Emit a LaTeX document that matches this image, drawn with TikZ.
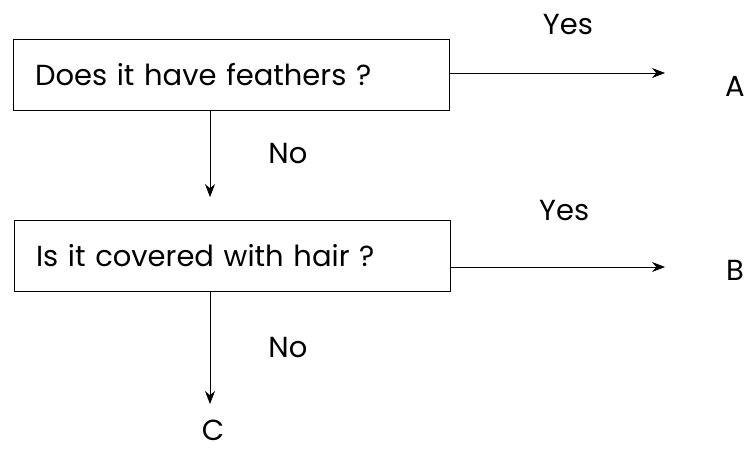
\documentclass[tikz,border=0pt]{standalone}
\usepackage{fontspec}
\setmainfont{Poppins}
\usetikzlibrary{arrows.meta}

\tikzset{
  question/.style={draw, line width=0.8pt, minimum width=436pt, minimum height=71pt,
    inner sep=22pt, text width=392pt, align=left, font=\fontsize{29}{30}\selectfont},
  fleche/.style={line width=0.8pt, -{Stealth[length=13pt,width=10pt]}},
  etiq/.style={font=\fontsize{29}{30}\selectfont, inner sep=0pt}
}

\begin{document}
\begin{tikzpicture}[x=1pt, y=-1pt]
			\useasboundingbox (0,0) rectangle (745,454);

			% boites
			\node[question] (q1) at (231,74.5) {Does it have feathers ?};
			\node[question] (q2) at (232,256) {Is it covered with hair ?};

			% reponses
			\node[etiq] (A) at (735,86) {A};
			\node[etiq] (B) at (735,270) {B};
			\node[etiq] (C) at (213,430) {C};
			\coordinate (finA) at (665,73);
			\coordinate (finB) at (665,267);
			\coordinate (finC) at (210,404);

			% fleches
			\draw[fleche] (q1.east |- finA) -- (finA) node[etiq, pos=0.55, above=38pt] {Yes};
			\draw[fleche] (q2.east |- finB) -- (finB) node[etiq, pos=0.53, above=46pt] {Yes};
			\draw[fleche] (q1.south -| finC) -- ([yshift=23pt]q2.north -| finC) node[etiq, midway, right=58pt] {No};
			\draw[fleche] (q2.south -| finC) -- (finC) node[etiq, midway, right=58pt] {No};
		\end{tikzpicture}
\end{document}
